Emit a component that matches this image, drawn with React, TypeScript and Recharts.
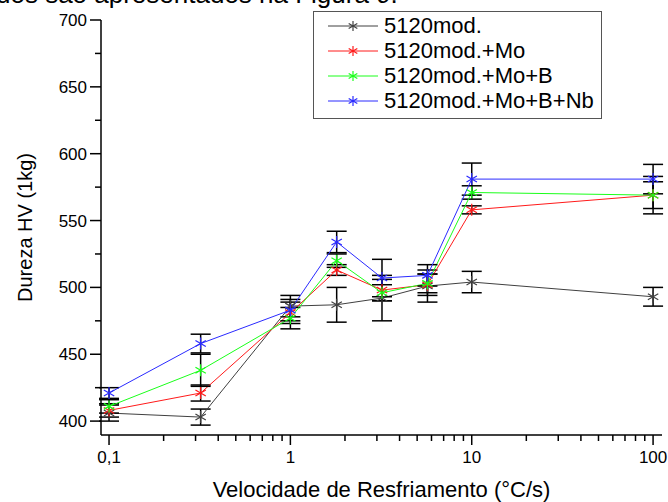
import React from "react";
import { CartesianGrid, ErrorBar, Legend, Line, LineChart, XAxis, YAxis } from "recharts";

const X_VALUES = [0.1, 0.32, 1, 1.8, 3.2, 5.7, 10, 100];

const SERIES_NAMES = ["5120mod.", "5120mod.+Mo", "5120mod.+Mo+B", "5120mod.+Mo+B+Nb"];
const SERIES_COLORS = ["#404040", "#ff1a1a", "#1aff1a", "#2a2aff"];

const HV_BASE = [406, 403, 486, 487, 492, 501, 504, 493];
const ERR_BASE = [6, 6, 8, 13, 17, 12, 8, 7];
const HV_MO = [408, 421, 481, 513, 498, 502, 558, 569];
const ERR_MO = [5, 6, 8, 4, 8, 8, 3, 14];
const HV_MO_B = [411, 438, 477, 520, 496, 503, 571, 569];
const ERR_MO_B = [5, 12, 8, 5, 6, 7, 5, 10];
const HV_MO_B_NB = [421, 458, 483, 534, 507, 509, 581, 581];
const ERR_MO_B_NB = [4, 7, 8, 8, 14, 8, 12, 11];

const X_MAJOR = [0.1, 1, 10, 100];
const X_MINOR = [0.2, 0.3, 0.4, 0.5, 0.6, 0.7, 0.8, 0.9, 2, 3, 4, 5, 6, 7, 8, 9, 20, 30, 40, 50, 60, 70, 80, 90];
const Y_MAJOR = [400, 450, 500, 550, 600, 650, 700];
const Y_MINOR = [425, 475, 525, 575, 625, 675];

const values = [HV_BASE, HV_MO, HV_MO_B, HV_MO_B_NB];
const errors = [ERR_BASE, ERR_MO, ERR_MO_B, ERR_MO_B_NB];

const data = X_VALUES.map((x, i) => {
  const row: Record<string, number> = { x };
  values.forEach((v, s) => {
    row["s" + s] = v[i];
    row["e" + s] = errors[s][i];
  });
  return row;
});

const FONT = "Arial, 'Liberation Sans', sans-serif";

function Star({ cx, cy, color, r = 6 }: { cx: number; cy: number; color: string; r?: number }) {
  const dx = r * Math.cos(Math.PI / 6);
  const dy = r * Math.sin(Math.PI / 6);
  return (
    <g stroke={color} strokeWidth={1.2} fill="none">
      <line x1={cx} y1={cy - r} x2={cx} y2={cy + r} />
      <line x1={cx - dx} y1={cy - dy} x2={cx + dx} y2={cy + dy} />
      <line x1={cx - dx} y1={cy + dy} x2={cx + dx} y2={cy - dy} />
    </g>
  );
}

const fmtX = (v: number) => (v === 0.1 ? "0,1" : String(v));

function XTick(props: any) {
  const { x, y, payload } = props;
  const major = X_MAJOR.includes(payload.value);
  return (
    <g>
      <line x1={x} y1={y} x2={x} y2={y + (major ? 10 : 6)} stroke="#000" strokeWidth={1.5} />
      {major && (
        <text x={x} y={y + 28} textAnchor="middle" fontSize={17} fontFamily={FONT} fill="#000">
          {fmtX(payload.value)}
        </text>
      )}
    </g>
  );
}

function YTick(props: any) {
  const { x, y, payload } = props;
  const major = Y_MAJOR.includes(payload.value);
  return (
    <g>
      <line x1={x - (major ? 11 : 6)} y1={y} x2={x} y2={y} stroke="#000" strokeWidth={1.5} />
      {major && (
        <text x={x - 14} y={y + 6} textAnchor="end" fontSize={17} fontFamily={FONT} fill="#000">
          {payload.value}
        </text>
      )}
    </g>
  );
}

function LegendBox() {
  return (
    <div style={{ width: 287, height: 105, border: "1px solid #555", background: "#fff", paddingTop: 1 }}>
      {SERIES_NAMES.map((name, i) => (
        <div key={name} style={{ height: 25, display: "flex", alignItems: "center" }}>
          <svg width={70} height={25} style={{ flex: "none" }}>
            <line x1={14} y1={13} x2={64} y2={13} stroke={SERIES_COLORS[i]} strokeWidth={1} />
            <Star cx={39} cy={13} color={SERIES_COLORS[i]} r={5} />
          </svg>
          <span style={{ fontFamily: FONT, fontSize: 22, lineHeight: "25px", color: "#000", whiteSpace: "nowrap" }}>{name}</span>
        </div>
      ))}
    </div>
  );
}

export default function App() {
  return (
    <div style={{ position: "absolute", left: 0, top: 0, width: 668, height: 502, background: "#fff", overflow: "hidden" }}>
      <div style={{ position: "absolute", top: -21, left: -4, fontFamily: FONT, fontSize: 26, whiteSpace: "nowrap", color: "#000" }}>
        dos são apresentados na Figura 9.
      </div>
      <LineChart width={668} height={502} data={data} margin={{ top: 20, right: 6, bottom: 0, left: 0 }}>
        <CartesianGrid stroke="none" />
        <XAxis
          dataKey="x"
          type="number"
          scale="log"
          domain={[0.0903, 112]}
          allowDataOverflow
          ticks={[...X_MAJOR, ...X_MINOR]}
          interval={0}
          height={67}
          tickSize={0}
          tickMargin={0}
          tickLine={false}
          tick={<XTick />}
          axisLine={{ stroke: "#000", strokeWidth: 1.5 }}
          label={{
            value: "Velocidade de Resfriamento (°C/s)",
            position: "insideBottom",
            offset: 5,
            style: { fontFamily: FONT, fontSize: 22, fill: "#000" },
          }}
        />
        <YAxis
          type="number"
          domain={[389.6, 700]}
          allowDataOverflow
          ticks={[...Y_MAJOR, ...Y_MINOR]}
          interval={0}
          width={101}
          tickSize={0}
          tickMargin={0}
          tickLine={false}
          tick={<YTick />}
          axisLine={{ stroke: "#000", strokeWidth: 1.5 }}
          label={{
            value: "Dureza HV (1kg)",
            angle: -90,
            position: "insideLeft",
            offset: 25,
            style: { fontFamily: FONT, fontSize: 20, fill: "#000", textAnchor: "middle" },
          }}
        />
        <Legend
          layout="vertical"
          align="center"
          verticalAlign="middle"
          content={<LegendBox />}
          wrapperStyle={{ left: 313, top: 11, width: 289, height: 107 }}
        />
        {SERIES_NAMES.map((name, s) => (
          <Line
            key={name}
            name={name}
            dataKey={"s" + s}
            stroke={SERIES_COLORS[s]}
            strokeWidth={1}
            isAnimationActive={false}
            activeDot={false}
            dot={(p: any) => <Star key={p.index} cx={p.cx} cy={p.cy} color={SERIES_COLORS[s]} />}
          >
            <ErrorBar dataKey={"e" + s} direction="y" width={10} stroke="#000" strokeWidth={1.5} />
          </Line>
        ))}
      </LineChart>
    </div>
  );
}
